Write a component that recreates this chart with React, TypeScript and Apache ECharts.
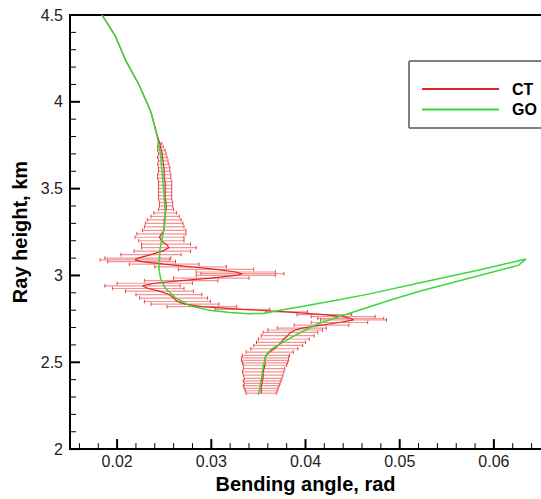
import React, { useEffect, useRef } from 'react';
import * as echarts from 'echarts';

const FONT = '"Liberation Sans", Arial, Helvetica, sans-serif';

// axis ticks
const xMajorTicks = [0.02, 0.03, 0.04, 0.05, 0.06];
const xMinorTicks = [0.016, 0.018, 0.022, 0.024, 0.026, 0.028, 0.032, 0.034, 0.036, 0.038,
  0.042, 0.044, 0.046, 0.048, 0.052, 0.054, 0.056, 0.058, 0.062, 0.064];
const yMajorTicks = [2, 2.5, 3, 3.5, 4, 4.5];
const yMinorTicks = [2.1, 2.2, 2.3, 2.4, 2.6, 2.7, 2.8, 2.9, 3.1, 3.2, 3.3, 3.4,
  3.6, 3.7, 3.8, 3.9, 4.1, 4.2, 4.3, 4.4];

// GO (geometric optics) curve: [bending angle, ray height]
const goAngle = [0.0184, 0.0198, 0.0209, 0.0224, 0.0236, 0.0243, 0.0246, 0.0248, 0.0250, 0.02512,
  0.02505, 0.0248, 0.02455, 0.02445, 0.0246, 0.0251, 0.0262, 0.0278, 0.0298, 0.0320,
  0.0340, 0.0355, 0.0364, 0.0399, 0.0437, 0.0468, 0.0523, 0.0583, 0.0634, 0.0626,
  0.0523, 0.0492, 0.04435, 0.04124, 0.0385, 0.0365, 0.0359, 0.03553, 0.0353, 0.0350];
const goHeight = [4.5, 4.38, 4.24, 4.09, 3.94, 3.79, 3.70, 3.58, 3.45, 3.35,
  3.29, 3.22, 3.15, 3.04, 2.985, 2.928, 2.871, 2.824, 2.80, 2.787,
  2.780, 2.781, 2.7915, 2.824, 2.862, 2.894, 2.960, 3.030, 3.095, 3.058,
  2.912, 2.862, 2.777, 2.72, 2.644, 2.58, 2.549, 2.483, 2.40, 2.312];

// CT (canonical transform) profile: height, mean bending angle, error half-width
const ctHeight = [4.50, 4.38, 4.24, 4.09, 3.94, 3.80,
  3.76, 3.74, 3.72, 3.70, 3.68, 3.66, 3.64, 3.62, 3.60, 3.58, 3.56, 3.54, 3.52, 3.50,
  3.48, 3.46, 3.44, 3.42, 3.40, 3.38, 3.36, 3.34, 3.32, 3.30, 3.28, 3.26, 3.24, 3.22,
  3.20, 3.18, 3.16, 3.14, 3.12, 3.10, 3.09, 3.08, 3.065, 3.05, 3.035, 3.02, 3.01, 3.00,
  2.985, 2.97, 2.955, 2.94, 2.925, 2.91, 2.89, 2.87, 2.85, 2.835, 2.82, 2.805, 2.79,
  2.775, 2.763, 2.752, 2.744, 2.729, 2.714, 2.697, 2.686, 2.672, 2.653, 2.634, 2.615,
  2.597, 2.578, 2.559, 2.54, 2.525, 2.511, 2.497, 2.483, 2.464, 2.445, 2.426, 2.407,
  2.393, 2.379, 2.365, 2.35, 2.336, 2.322];
const ctAngle = [0.0184, 0.0198, 0.0209, 0.0224, 0.0236, 0.0243,
  0.02455, 0.0246, 0.0247, 0.0248, 0.0248, 0.0249, 0.0249, 0.0250, 0.0250, 0.0250, 0.0250, 0.0251, 0.0251, 0.0251,
  0.0251, 0.0251, 0.0251, 0.0252, 0.0252, 0.0252, 0.0251, 0.0251, 0.0250, 0.0250, 0.0250, 0.0250, 0.0247, 0.0245,
  0.0247, 0.0252, 0.0255, 0.0248, 0.0236, 0.0222, 0.0219, 0.0226, 0.0250, 0.0278, 0.0305, 0.0326, 0.0333, 0.0326,
  0.0300, 0.0268, 0.0240, 0.0227, 0.0233, 0.0245, 0.0255, 0.0260, 0.0264, 0.0272, 0.0290, 0.0333, 0.0380,
  0.0420, 0.0440, 0.0448, 0.0451, 0.0436, 0.0417, 0.0396, 0.0389, 0.0384, 0.0381, 0.0377, 0.0374,
  0.0371, 0.0367, 0.0362, 0.0358, 0.0357, 0.0357, 0.0357, 0.0357, 0.0356, 0.0355, 0.0355, 0.0355,
  0.0354, 0.0354, 0.0353, 0.0353, 0.0353, 0.0353];
const ctError = [0, 0, 0, 0, 0, 0,
  0.0002, 0.0003, 0.0004, 0.0004, 0.0005, 0.0005, 0.0006, 0.0006, 0.0006, 0.0007, 0.0007, 0.0007, 0.0007, 0.0007,
  0.0007, 0.0007, 0.0007, 0.0007, 0.0007, 0.0008, 0.0012, 0.0015, 0.0018, 0.0020, 0.0021, 0.0023, 0.0026, 0.0026,
  0.0024, 0.0026, 0.0029, 0.0030, 0.0032, 0.0035, 0.0037, 0.0036, 0.0037, 0.0038, 0.0040, 0.0042, 0.0044, 0.0042,
  0.0040, 0.0039, 0.0040, 0.0040, 0.0038, 0.0036, 0.0035, 0.0036, 0.0035, 0.0036, 0.0037, 0.0029, 0.0022,
  0.0029, 0.0034, 0.0035, 0.0035, 0.0030, 0.0029, 0.0026, 0.0029, 0.0029, 0.0028, 0.0027, 0.0026,
  0.0026, 0.0025, 0.0025, 0.0025, 0.0025, 0.0025, 0.0024, 0.0023, 0.0022, 0.0022, 0.0021, 0.0020,
  0.0020, 0.0019, 0.0019, 0.0018, 0.0017, 0.0016];

const CT_COLOR = '#e02424';
const CT_BAR = '#f09494';
const CT_CAP = '#e04848';
const GO_COLOR = '#3ad83a';

const X_MIN = 0.015;
const X_MAX = 0.065;
const Y_MIN = 2;
const Y_MAX = 4.5;

export default function App() {
  const ref = useRef<HTMLDivElement>(null);
  useEffect(() => {
    if (!ref.current) return;
    const chart = echarts.init(ref.current, undefined, { renderer: 'svg' });
    const barData = ctHeight
      .map((h, i) => [ctAngle[i], h, ctAngle[i] - ctError[i], ctAngle[i] + ctError[i], ctError[i]])
      .filter((d) => d[4] > 0);
    const xTickData = [
      ...xMajorTicks.map((v) => [v, Y_MIN, 1]),
      ...xMinorTicks.map((v) => [v, Y_MIN, 0]),
    ];
    const yTickData = [
      ...yMajorTicks.map((v) => [X_MIN, v, 1]),
      ...yMinorTicks.map((v) => [X_MIN, v, 0]),
    ];
    const baseX = {
      type: 'value',
      min: X_MIN,
      max: X_MAX,
      splitLine: { show: false },
      axisTick: { show: false },
    };
    const frameLine = (x1: number, y1: number, x2: number, y2: number) => ({
      type: 'line',
      shape: { x1, y1, x2, y2 },
      style: { stroke: '#808080', lineWidth: 2 },
      z: 50,
      silent: true,
    });
    const option: any = {
      animation: false,
      backgroundColor: '#fff',
      grid: { left: 70, top: 15, width: 482, height: 440 },
      legend: {
        data: ['CT', 'GO'],
        orient: 'vertical',
        left: 409,
        top: 61,
        padding: [20, 20, 11, 13],
        itemGap: 4.6,
        itemWidth: 77,
        itemHeight: 2,
        icon: 'rect',
        borderWidth: 0,
        textStyle: { fontFamily: FONT, fontSize: 16, fontWeight: 'bold', color: '#000', lineHeight: 16, padding: [0, 0, 0, 8] },
      },
      // legend frame: open on the right, as the plot is cut at the page edge
      graphic: [
        frameLine(409, 61, 640, 61),
        frameLine(409, 61, 409, 128),
        frameLine(409, 128, 640, 128),
      ],
      xAxis: [
        {
          ...baseX,
          position: 'bottom',
          name: 'Bending angle, rad',
          nameLocation: 'middle',
          nameGap: 22,
          nameTextStyle: { fontFamily: FONT, fontSize: 20, fontWeight: 'bold', color: '#000' },
          axisLine: { show: true, lineStyle: { color: '#000', width: 2 } },
          axisLabel: { show: true, customValues: xMajorTicks, margin: 4, fontFamily: FONT, fontSize: 16, color: '#222',
            formatter: (v: number) => v.toFixed(2) },
        },
        {
          ...baseX,
          position: 'top',
          axisLine: { show: true, lineStyle: { color: '#000', width: 2 } },
          axisLabel: { show: false },
        },
      ],
      yAxis: {
        type: 'value',
        min: Y_MIN,
        max: Y_MAX,
        interval: 0.5,
        position: 'left',
        name: 'Ray height, km',
        nameLocation: 'middle',
        nameGap: 31,
        nameTextStyle: { fontFamily: FONT, fontSize: 20, fontWeight: 'bold', color: '#000' },
        axisLine: { show: true, lineStyle: { color: '#000', width: 2 } },
        axisTick: { show: false },
        axisLabel: { margin: 7, fontFamily: FONT, fontSize: 16, color: '#222' },
        splitLine: { show: false },
      },
      series: [
        {
          type: 'custom',
          name: 'CT bars',
          xAxisIndex: 0,
          yAxisIndex: 0,
          data: barData,
          encode: { x: 0, y: 1 },
          silent: true,
          renderItem: (params: any, api: any) => {
            const h = api.value(1);
            const p1 = api.coord([api.value(2), h]);
            const p2 = api.coord([api.value(3), h]);
            return {
              type: 'group',
              children: [
                { type: 'line', shape: { x1: p1[0], y1: p1[1], x2: p2[0], y2: p2[1] }, style: { stroke: CT_BAR, lineWidth: 1.2 } },
                { type: 'line', shape: { x1: p1[0], y1: p1[1] - 1.8, x2: p1[0], y2: p1[1] + 1.8 }, style: { stroke: CT_CAP, lineWidth: 1 } },
                { type: 'line', shape: { x1: p2[0], y1: p2[1] - 1.8, x2: p2[0], y2: p2[1] + 1.8 }, style: { stroke: CT_CAP, lineWidth: 1 } },
              ],
            };
          },
          z: 1,
        },
        {
          type: 'line',
          name: 'CT',
          xAxisIndex: 0,
          yAxisIndex: 0,
          data: ctHeight.map((h, i) => [ctAngle[i], h]),
          symbol: 'none',
          lineStyle: { color: CT_COLOR, width: 1.2 },
          itemStyle: { color: CT_COLOR },
          z: 2,
        },
        {
          type: 'line',
          name: 'GO',
          xAxisIndex: 0,
          yAxisIndex: 0,
          data: goHeight.map((h, i) => [goAngle[i], h]),
          symbol: 'none',
          lineStyle: { color: GO_COLOR, width: 1.5 },
          itemStyle: { color: GO_COLOR },
          z: 3,
        },
        {
          type: 'custom',
          name: 'x ticks',
          xAxisIndex: 0,
          yAxisIndex: 0,
          data: xTickData,
          encode: { x: 0, y: 1 },
          silent: true,
          renderItem: (params: any, api: any) => {
            const major = api.value(2) === 1;
            const p = api.coord([api.value(0), api.value(1)]);
            return {
              type: 'line',
              shape: { x1: p[0], y1: p[1], x2: p[0], y2: p[1] - (major ? 10 : 6) },
              style: { stroke: '#000', lineWidth: major ? 2 : 1 },
            };
          },
          z: 5,
        },
        {
          type: 'custom',
          name: 'y ticks',
          xAxisIndex: 0,
          yAxisIndex: 0,
          data: yTickData,
          encode: { x: 0, y: 1 },
          silent: true,
          renderItem: (params: any, api: any) => {
            const major = api.value(2) === 1;
            const p = api.coord([api.value(0), api.value(1)]);
            return {
              type: 'line',
              shape: { x1: p[0], y1: p[1], x2: p[0] + (major ? 10 : 6), y2: p[1] },
              style: { stroke: '#000', lineWidth: major ? 2 : 1 },
            };
          },
          z: 5,
        },
      ],
    };
    chart.setOption(option);
    return () => chart.dispose();
  }, []);
  return <div ref={ref} style={{ position: 'fixed', left: 0, top: 0, width: 541, height: 499, background: '#fff' }} />;
}
